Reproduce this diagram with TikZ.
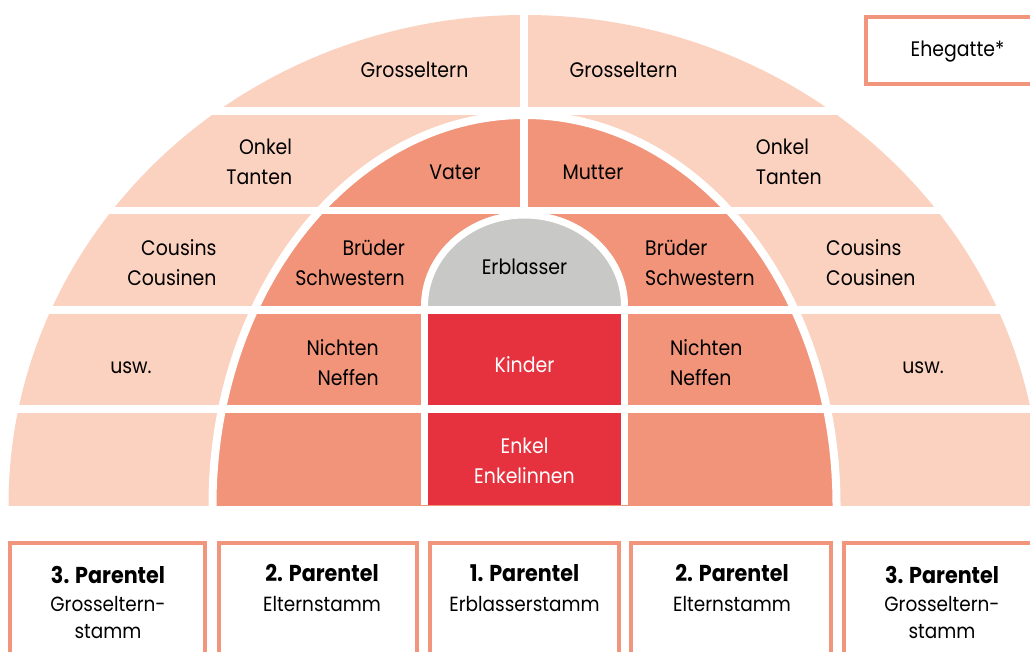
\documentclass[tikz,border=0pt]{standalone}
\usepackage{fontspec}
\setmainfont{Poppins}[FakeStretch=0.9]
\definecolor{light}{RGB}{251,210,192}
\definecolor{mid}{RGB}{241,148,122}
\definecolor{kred}{RGB}{229,50,62}
\definecolor{egray}{RGB}{200,200,199}
\definecolor{frame}{RGB}{241,150,124}
\begin{document}
\begin{tikzpicture}[x=1pt,y=-1pt,
  lbl/.style={inner sep=0pt, font=\fontsize{21}{30}\selectfont, text=black},
  wlbl/.style={lbl, text=white, align=center},
  lalign/.style={lbl, align=right, anchor=east},
  ralign/.style={lbl, align=left, anchor=west},
  ttl/.style={inner sep=0pt, font=\fontsize{23}{27}\selectfont\bfseries, text=black},
  sub/.style={inner sep=0pt, font=\fontsize{20.5}{27}\selectfont, align=center, anchor=north, text=black},
  gapline/.style={white, line width=8pt},
  colline/.style={white, line width=7pt},
  boxframe/.style={draw=frame, line width=4pt}]
\useasboundingbox (0,0) rectangle (1030,652);
% ---- semicircle diagram ----
\begin{scope}
  \clip (0,0) rectangle (1030,505);
  \fill[light] (524.5,505) ellipse [x radius=516, y radius=490];
  \fill[mid] (524.5,505) ellipse [x radius=312, y radius=390];
  \draw[gapline] (524.5,505) ellipse [x radius=312, y radius=390];
  \fill[kred] (424.5,306) rectangle (624.5,505);
  \draw[colline] (424.5,300) -- (424.5,505);
  \draw[colline] (624.5,300) -- (624.5,505);
  \draw[gapline] (524,0) -- (524,207);
\end{scope}
\begin{scope}
  \clip (0,0) rectangle (1030,306);
  \fill[egray] (524.5,306) ellipse [x radius=100, y radius=91];
  \draw[colline] (524.5,306) ellipse [x radius=100, y radius=91];
\end{scope}
\fill[white] (0,107) rectangle (1030,115);
\fill[white] (0,207) rectangle (1030,214);
\fill[white] (0,306) rectangle (1030,314);
\fill[white] (0,405) rectangle (1030,413);
% ---- frames ----
\begin{scope}
  \clip (0,0) rectangle (1030,652);
  \draw[boxframe] (866,17) rectangle (1045,84);
  \draw[boxframe] (10,543) rectangle (205,670);
  \draw[boxframe] (219,543) rectangle (417,670);
  \draw[boxframe] (430,543) rectangle (619,670);
  \draw[boxframe] (631,543) rectangle (831,670);
  \draw[boxframe] (844,543) rectangle (1045,670);
\end{scope}
% ---- labels ----
\node[lbl] (gl) at (414.5,70) {Grosseltern};
\node[lbl] (gr) at (623.5,70) {Grosseltern};
\node[lbl] (vater) at (455,172) {Vater};
\node[lbl] (mutter) at (593,172) {Mutter};
\node[lalign] (ol) at (292.3,162) {Onkel\\Tanten};
\node[ralign] (or) at (755.7,162) {Onkel\\Tanten};
\node[lalign] (cl) at (216.7,263) {Cousins\\Cousinen};
\node[ralign] (cr) at (826,263) {Cousins\\Cousinen};
\node[lalign] (bl) at (405,263) {Brüder\\Schwestern};
\node[ralign] (br) at (645,263) {Brüder\\Schwestern};
\node[lbl] (erb) at (524.5,267) {Erblasser};
\node[lbl] (ul) at (131,368) {usw.};
\node[lbl] (ur) at (923,368) {usw.};
\node[lalign] (nl) at (379,363) {Nichten\\Neffen};
\node[ralign] (nr) at (670,363) {Nichten\\Neffen};
\node[wlbl] (kinder) at (524.5,365) {Kinder};
\node[wlbl] (enkel) at (524.5,461) {Enkel\\Enkelinnen};
\node[lbl] (ehe) at (957.5,52) {Ehegatte*};
% ---- bottom boxes ----
\node[ttl] (p3l) at (108,575) {3. Parentel};
\node[sub] (s3l) at (108,596) {Grosseltern-\\stamm};
\node[ttl] (p2l) at (322,573) {2. Parentel};
\node[sub] (s2l) at (322,596) {Elternstamm};
\node[ttl] (p1) at (524.5,573) {1. Parentel};
\node[sub] (s1) at (524.5,596) {Erblasserstamm};
\node[ttl] (p2r) at (732,573) {2. Parentel};
\node[sub] (s2r) at (732,596) {Elternstamm};
\node[ttl] (p3r) at (942,575) {3. Parentel};
\node[sub] (s3r) at (942,596) {Grosseltern-\\stamm};
\end{tikzpicture}
\end{document}
